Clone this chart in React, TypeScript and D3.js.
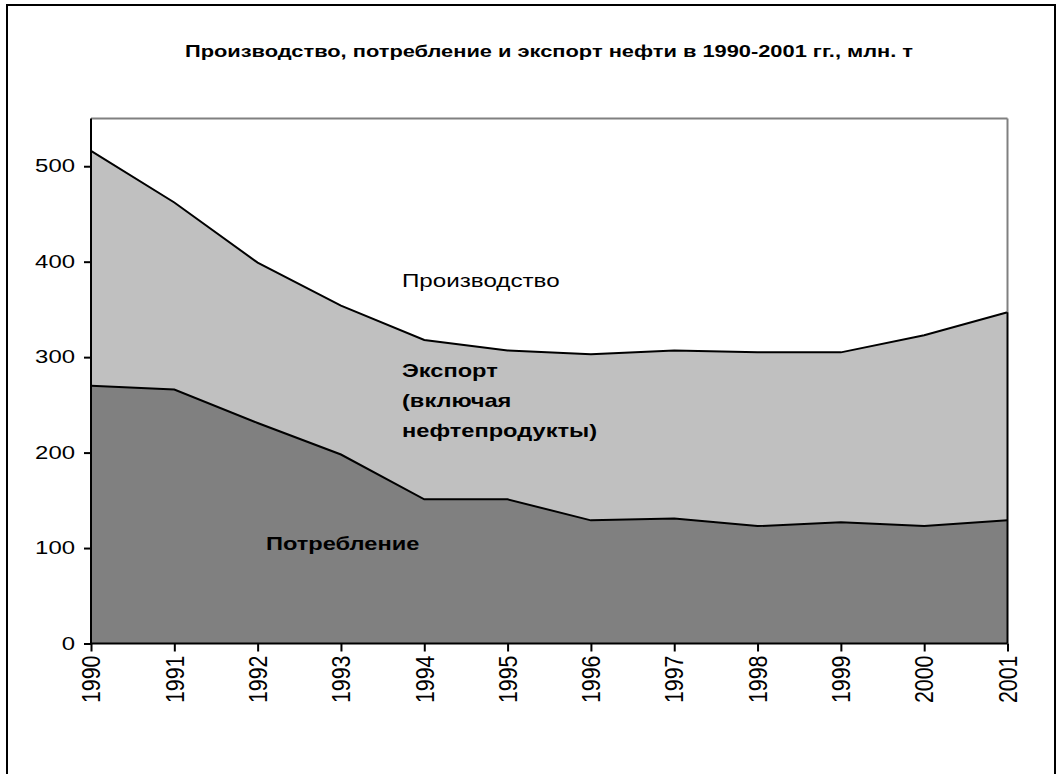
import React, { useEffect, useRef } from 'react';
import * as d3 from 'd3';

// values, mln t
const years = [1990, 1991, 1992, 1993, 1994, 1995, 1996, 1997, 1998, 1999, 2000, 2001];
const production = [516, 462, 399, 354, 318, 307, 303, 307, 305, 305, 323, 347];
const consumption = [270, 266, 231, 198, 151, 151, 129, 131, 123, 127, 123, 129];
const yTicks = [0, 100, 200, 300, 400, 500];

const title = 'Производство, потребление и экспорт нефти в 1990-2001 гг., млн. т';
const exportLines = ['Экспорт', '(включая', 'нефтепродукты)'];

const App = () => {
  const svgRef = useRef<SVGSVGElement>(null);

  useEffect(() => {
    if (!svgRef.current) return;
    const svg = d3.select(svgRef.current);
    svg.selectAll('*').remove();

    const width = 1062;
    const height = 774;
    const font = 'Liberation Sans, Arial, sans-serif';

    // the original is stretched sideways, so text gets a horizontal scale
    const label = (x: number, y: number, txt: string, size: number, bold: boolean, sx: number, anchor = 'start') =>
      svg.append('text')
        .attr('transform', `translate(${x},${y}) scale(${sx},1)`)
        .attr('text-anchor', anchor)
        .attr('font-family', font)
        .attr('font-size', size)
        .attr('font-weight', bold ? 'bold' : 'normal')
        .attr('fill', '#000')
        .text(txt);

    // outer frame
    svg.append('rect')
      .attr('x', 7).attr('y', 5)
      .attr('width', 1048).attr('height', 800)
      .attr('fill', '#fff')
      .attr('stroke', '#000')
      .attr('stroke-width', 2);

    label(549, 57, title, 16.8, true, 1.3, 'middle');

    const margin = { top: 118.5, left: 91, right: 1007.5, bottom: 643.5 };

    const x = d3.scaleLinear()
      .domain([years[0], years[years.length - 1]])
      .range([margin.left, margin.right]);
    const y = d3.scaleLinear()
      .domain([0, 550])
      .range([margin.bottom, margin.top]);

    const data = years.map((yr, i) => ({ yr, prod: production[i], cons: consumption[i] }));

    // export part = between consumption and production
    const exportArea = d3.area<any>()
      .x(d => x(d.yr))
      .y0(d => y(d.cons))
      .y1(d => y(d.prod));
    const consArea = d3.area<any>()
      .x(d => x(d.yr))
      .y0(y(0))
      .y1(d => y(d.cons));

    svg.append('path').datum(data).attr('d', exportArea).attr('fill', '#c0c0c0');
    svg.append('path').datum(data).attr('d', consArea).attr('fill', '#808080');

    const line = (key: string) => d3.line<any>().x(d => x(d.yr)).y(d => y(d[key]));
    svg.append('path').datum(data).attr('d', line('prod'))
      .attr('fill', 'none').attr('stroke', '#000').attr('stroke-width', 2);
    svg.append('path').datum(data).attr('d', line('cons'))
      .attr('fill', 'none').attr('stroke', '#000').attr('stroke-width', 2);

    // plot frame: gray top / right, black axes
    const lastProd = y(production[production.length - 1]);
    svg.append('line')
      .attr('x1', margin.left).attr('x2', margin.right)
      .attr('y1', margin.top).attr('y2', margin.top)
      .attr('stroke', '#808080').attr('stroke-width', 2);
    svg.append('line')
      .attr('x1', margin.right).attr('x2', margin.right)
      .attr('y1', margin.top).attr('y2', lastProd)
      .attr('stroke', '#808080').attr('stroke-width', 2);
    svg.append('line')
      .attr('x1', margin.right).attr('x2', margin.right)
      .attr('y1', lastProd).attr('y2', margin.bottom)
      .attr('stroke', '#000').attr('stroke-width', 2);

    const yAxis = svg.append('g')
      .attr('transform', `translate(${margin.left},0)`)
      .call(d3.axisLeft(y).tickValues(yTicks).tickSize(7).tickFormat(d3.format('d')));
    yAxis.select('.domain').attr('stroke', '#000').attr('stroke-width', 2)
      .attr('d', `M0,${margin.top}V${margin.bottom}`);
    yAxis.selectAll('.tick line').attr('stroke', '#000').attr('stroke-width', 2);
    yAxis.selectAll('.tick text')
      .attr('font-family', font).attr('font-size', 18).attr('fill', '#000')
      .attr('transform', `scale(1.33,1)`)
      .attr('x', -16 / 1.33);

    const xAxis = svg.append('g')
      .attr('transform', `translate(0,${margin.bottom})`)
      .call(d3.axisBottom(x).tickValues(years).tickSize(8).tickFormat(d3.format('d')));
    xAxis.select('.domain').attr('stroke', '#000').attr('stroke-width', 2)
      .attr('d', `M${margin.left},0H${margin.right}`);
    xAxis.selectAll('.tick line').attr('stroke', '#000').attr('stroke-width', 2);
    xAxis.selectAll('.tick text')
      .attr('font-family', font).attr('font-size', 20).attr('fill', '#000')
      .attr('transform', 'rotate(-90) scale(1.07,1.25)')
      .attr('text-anchor', 'end')
      .attr('x', -12 / 1.07).attr('y', 0).attr('dy', '0.35em');

    // series labels
    label(402, 287, 'Производство', 18.6, false, 1.3);
    exportLines.forEach((t, i) => label(402, 376.7 + i * 30, t, 18.6, true, 1.27));
    label(266, 550, 'Потребление', 18.6, true, 1.27);

    svg.attr('width', width).attr('height', height);
  }, []);

  return (
    <svg ref={svgRef} style={{ position: 'absolute', left: 0, top: 0, background: '#fff' }}></svg>
  );
};

export default App;
